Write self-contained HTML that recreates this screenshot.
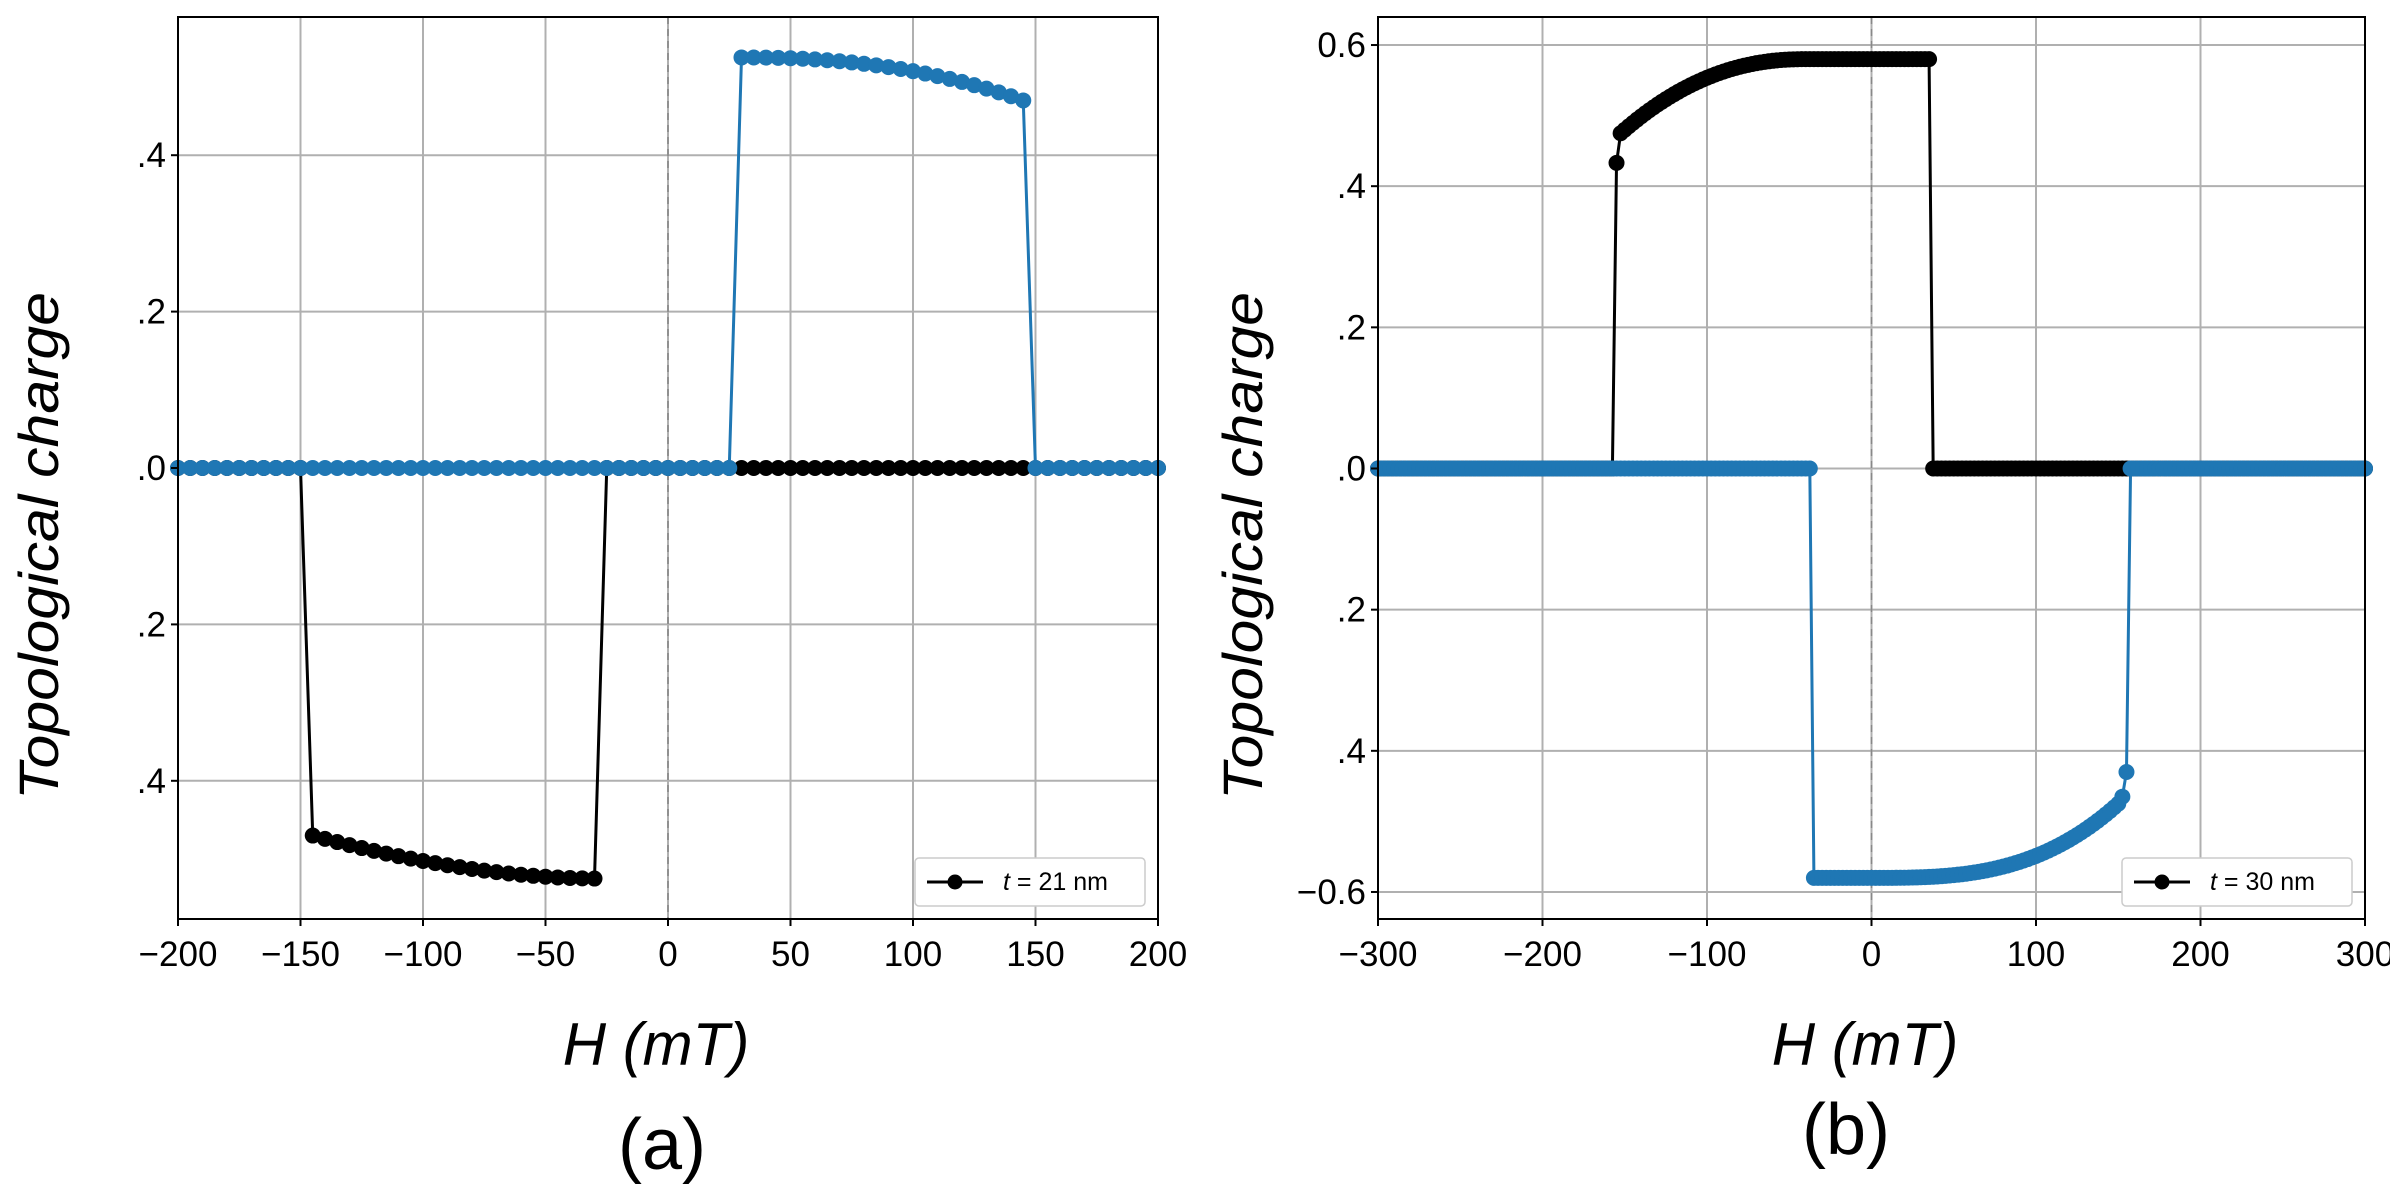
<!DOCTYPE html>
<html><head><meta charset="utf-8"><style>
html,body{margin:0;padding:0;background:#fff}
svg{display:block}
text{font-family:"Liberation Sans","DejaVu Sans",sans-serif;fill:#000}
</style></head><body>
<svg id="s" width="2390" height="1193" xmlns="http://www.w3.org/2000/svg">
<rect width="2390" height="1193" fill="#fff"/>
<g id="g"></g>
</svg>
<script>
const NS="http://www.w3.org/2000/svg";const G=document.getElementById('g');
function el(t,a,txt){const e=document.createElementNS(NS,t);for(const k in a)e.setAttribute(k,a[k]);if(txt!==undefined)e.textContent=txt;G.appendChild(e);return e;}
function panel(P){
 const X=v=>P.x0+(v-P.xmin)/(P.xmax-P.xmin)*(P.x1-P.x0);
 const Y=v=>P.y0v-(v*P.ys);
 P.xt.forEach(v=>el('line',{x1:X(v),x2:X(v),y1:P.top,y2:P.bot,stroke:'#b0b0b0','stroke-width':2}));
 P.yt.forEach(v=>el('line',{x1:P.x0,x2:P.x1,y1:Y(v),y2:Y(v),stroke:'#b0b0b0','stroke-width':2}));
 el('line',{x1:X(0),x2:X(0),y1:P.top,y2:P.bot,stroke:'#888','stroke-width':1.6,'stroke-dasharray':'7,5'});
 [[P.black,'#000'],[P.blue,'#1f77b4']].forEach(([pts,c])=>{
  el('polyline',{points:pts.map(p=>X(p[0])+','+Y(p[1])).join(' '),fill:'none',stroke:c,'stroke-width':3});
  pts.forEach(p=>el('circle',{cx:X(p[0]),cy:Y(p[1]),r:P.r,fill:c}));
 });
 el('rect',{x:P.x0,y:P.top,width:P.x1-P.x0,height:P.bot-P.top,fill:'none',stroke:'#000','stroke-width':2});
 P.xt.forEach(v=>{el('line',{x1:X(v),x2:X(v),y1:P.bot,y2:P.bot+7,stroke:'#000','stroke-width':2});
  el('text',{x:X(v),y:966,'font-size':35,'text-anchor':'middle'},(v<0?'\u2212':'')+Math.abs(v));});
 P.ylab.forEach(([v,s])=>{el('line',{x1:P.x0-7,x2:P.x0,y1:Y(v),y2:Y(v),stroke:'#000','stroke-width':2});
  el('text',{x:P.x0-12,y:Y(v)+12,'font-size':35,'text-anchor':'end'},s);});
 el('rect',{x:P.lx,y:858,width:230,height:48,rx:4,fill:'#fff',stroke:'#ccc','stroke-width':1.5});
 el('line',{x1:P.lx+12,x2:P.lx+68,y1:882,y2:882,stroke:'#000','stroke-width':3});
 el('circle',{cx:P.lx+40,cy:882,r:7.5,fill:'#000'});
 const t=el('text',{x:P.lx+88,y:890,'font-size':25});
 t.innerHTML='<tspan font-style="italic">t</tspan> = '+P.lt+' nm';
 el('text',{x:P.hx,y:1065,'font-size':60,'font-style':'italic','text-anchor':'middle'},'H (mT)');
 el('text',{x:0,y:0,'font-size':56,'font-style':'italic','text-anchor':'middle',textLength:508,lengthAdjust:'spacingAndGlyphs',transform:`translate(${P.tx},546) rotate(-90)`},'Topological charge');
 el('text',{x:P.ax,y:P.ay,'font-size':72,'text-anchor':'middle'},P.al);
}
let blueA=[],blackA=[];
for(let h=-200;h<=200;h+=5){
 let b=0; if(h>=30&&h<=145) b=0.525-0.055*Math.pow((h-30)/115,2.3); blueA.push([h,b]);
}
for(let h=200;h>=-200;h-=5){
 let k=0; if(h>=-145&&h<=-30) k=-(0.525-0.055*Math.pow((-30-h)/115,1.8)); blackA.push([h,k]);
}
panel({x0:178,x1:1158,xmin:-200,xmax:200,top:17,bot:919,y0v:468,ys:782,r:8,
 xt:[-200,-150,-100,-50,0,50,100,150,200],yt:[0.4,0.2,0,-0.2,-0.4],
 ylab:[[0.4,'.4'],[0.2,'.2'],[0,'.0'],[-0.2,'.2'],[-0.4,'.4']],
 black:blackA,blue:blueA,lx:915,lt:'21',hx:656,tx:58,ax:662,ay:1169,al:'(a)'});
let blueB=[],blackB=[];
for(let h=-300;h<=300;h+=2.5){
 let b=0;
 if(h>=-35&&h<=0) b=-0.58;
 else if(h>0&&h<=150) b=-(0.58-0.105*Math.pow(h/150,3));
 else if(h===152.5) b=-0.465; else if(h===155) b=-0.43;
 blueB.push([h,b]);
}
for(let h=300;h>=-300;h-=2.5){
 let k=0;
 if(h<=35&&h>=-40) k=0.58;
 else if(h<-40&&h>=-150) k=0.58-0.1*Math.pow((-40-h)/110,2.2);
 else if(h===-152.5) k=0.475; else if(h===-155) k=0.433;
 blackB.push([h,k]);
}
panel({x0:1378,x1:2365,xmin:-300,xmax:300,top:17,bot:919,y0v:468.5,ys:705.8,r:8,
 xt:[-300,-200,-100,0,100,200,300],yt:[0.6,0.4,0.2,0,-0.2,-0.4,-0.6],
 ylab:[[0.6,'0.6'],[0.4,'.4'],[0.2,'.2'],[0,'.0'],[-0.2,'.2'],[-0.4,'.4'],[-0.6,'\u22120.6']],
 black:blackB,blue:blueB,lx:2122,lt:'30',hx:1865,tx:1262,ax:1846,ay:1154,al:'(b)'});
</script>
</body></html>
